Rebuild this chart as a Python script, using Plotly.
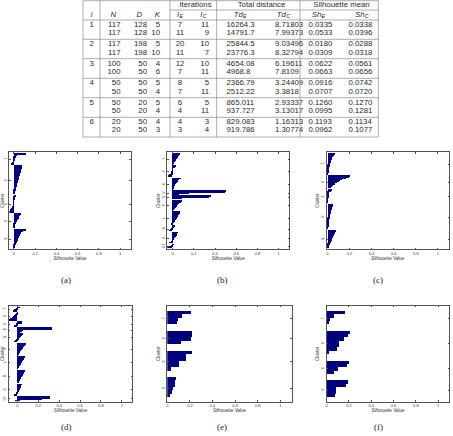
import math
import plotly.graph_objects as go

W, H = 453, 436
NAVY = "#00007f"
RULE = "#8a8a8a"

# ---------------- table ----------------
exp_id = [1, 2, 3, 4, 5, 6]
N = [117, 117, 117, 117, 100, 100, 50, 50, 50, 50, 20, 20]
D = [128, 128, 198, 198, 50, 50, 50, 50, 20, 20, 50, 50]
K = [5, 10, 5, 10, 4, 6, 5, 4, 5, 4, 4, 3]
iter_E = [7, 11, 20, 11, 12, 7, 8, 7, 6, 4, 4, 3]
iter_C = [11, 9, 10, 7, 10, 11, 5, 11, 5, 11, 3, 4]
td_E = [16264.3, 14791.7, 25844.5, 23776.3, 4654.08, 4968.8, 2366.79, 2512.22, 865.011, 937.727, 829.083, 919.786]
td_C = [8.71803, 7.99373, 9.03496, 8.32794, 6.19611, 7.8109, 3.24409, 3.3818, 2.93337, 3.13017, 1.16313, 1.30774]
sh_E = [0.0335, 0.0533, 0.0180, 0.0309, 0.0622, 0.0663, 0.0916, 0.0707, 0.1260, 0.0995, 0.1193, 0.0962]
sh_C = [0.0338, 0.0396, 0.0288, 0.0318, 0.0561, 0.0656, 0.0742, 0.0720, 0.1270, 0.1281, 0.1134, 0.1077]

# column heads: (base symbol, subscript)
col_heads = [("i", ""), ("N", ""), ("D", ""), ("K", ""), ("I", "E"), ("I", "C"),
             ("Td", "E"), ("Td", "C"), ("Sh", "E"), ("Sh", "C")]
group_heads = ["Iterations", "Total distance", "Silhouette mean"]

# ---------------- silhouette values, sorted per cluster ----------------
sil_a = [
    [0.12, 0.115, 0.03, 0.025, 0.02, 0.018, 0.015, 0.012, 0.01, 0.006, 0.003, -0.005, -0.012, -0.018, -0.022],
    [0.082, 0.08, 0.078, 0.076, 0.073, 0.071, 0.069, 0.067, 0.064, 0.062, 0.06, 0.058, 0.056, 0.054, 0.052,
     0.05, 0.048, 0.046, 0.044, 0.042, 0.04, 0.038, 0.036, 0.034, 0.032, 0.03, 0.028, 0.026, 0.024, 0.022,
     0.02, 0.018, 0.015, 0.012, 0.009, 0.006, 0.003],
    [0.022, 0.018, 0.012, 0.008, 0.006, 0.004, 0.003, 0.002, 0.001, 0.0, -0.001, -0.002, -0.004, -0.006,
     -0.009, -0.013, -0.017, -0.022, -0.027, -0.032, -0.038, -0.044],
    [0.066, 0.062, 0.058, 0.054, 0.05, 0.046, 0.042, 0.038, 0.034, 0.03, 0.027, 0.024, 0.02, 0.017, 0.014,
     0.011, 0.008, 0.005, 0.002],
    [0.12, 0.112, 0.09, 0.068, 0.065, 0.062, 0.058, 0.055, 0.052, 0.049, 0.046, 0.043, 0.04, 0.037, 0.034,
     0.031, 0.028, 0.025, 0.022, 0.019, 0.016, 0.012, 0.008, 0.004],
]
sil_b = [
    [0.076, 0.072, 0.066, 0.06, 0.055, 0.05, 0.045, 0.04, 0.036, 0.032, 0.027, 0.022, 0.017, 0.012, 0.008, 0.004],
    [0.032, 0.028, 0.01, 0.006, 0.004, 0.002, 0.001, -0.001, -0.003, -0.006, -0.01, -0.015, -0.021, -0.028, -0.036, -0.045],
    [0.078, 0.065, 0.058, 0.052, 0.047, 0.042, 0.038, 0.034, 0.03, 0.026, 0.022, 0.018, 0.014, 0.01, 0.005, 0.001],
    [0.51, 0.5, 0.17, 0.16, 0.06],
    [0.36, 0.35, 0.11, 0.09],
    [0.092, 0.088, 0.08, 0.072, 0.065, 0.058, 0.052, 0.046, 0.04, 0.034, 0.028, 0.022, 0.016, 0.01, 0.004],
    [0.072, 0.068, 0.064, 0.06, 0.056, 0.052, 0.048, 0.044, 0.04, 0.036, 0.032, 0.027, 0.022, 0.017, 0.011, 0.005, -0.003, -0.01],
    [0.03, 0.012, 0.004, -0.004, -0.012, -0.022, -0.032],
    [0.052, 0.048, 0.044, 0.04, 0.036, 0.032, 0.028, 0.024, 0.02, 0.016, 0.011, 0.006, 0.0, -0.012, -0.028],
    [0.012, 0.0, -0.015, -0.03, -0.05],
]
sil_c = [
    [0.07, 0.066, 0.058, 0.052, 0.047, 0.043, 0.04, 0.037, 0.034, 0.032, 0.03, 0.028, 0.026, 0.024, 0.022,
     0.02, 0.018, 0.017, 0.015, 0.014, 0.012, 0.011, 0.009, 0.008, 0.006, 0.004, 0.002, -0.004],
    [0.2, 0.195, 0.17, 0.15, 0.13, 0.115, 0.1, 0.09, 0.08, 0.07, 0.062, 0.055, 0.048, 0.041, 0.034, 0.027],
    [0.04, 0.036, 0.03, 0.012, 0.009, 0.008, 0.007, 0.006, 0.005, 0.005, 0.004, 0.003, 0.003, 0.002, 0.001,
     0.0, -0.003, -0.006],
    [0.048, 0.045, 0.042, 0.04, 0.038, 0.036, 0.034, 0.032, 0.03, 0.029, 0.027, 0.026, 0.024, 0.023, 0.021,
     0.02, 0.019, 0.017, 0.016, 0.015, 0.013, 0.012, 0.011, 0.01, 0.009, 0.008, 0.007, 0.006, 0.004, 0.003,
     0.001, -0.004],
    [0.076, 0.074, 0.07, 0.066, 0.062, 0.058, 0.054, 0.05, 0.047, 0.044, 0.041, 0.038, 0.035, 0.032, 0.029,
     0.026, 0.023, 0.02, 0.017, 0.014, 0.011, 0.008, 0.004],
]
sil_d = [
    [0.022, 0.005, -0.01, -0.022, -0.034, -0.045],
    [0.004, -0.004, -0.012, -0.02, -0.028, -0.036, -0.044, -0.052, -0.06, -0.07, -0.08],
    [0.045, 0.04, 0.01, -0.005, -0.012, -0.022, -0.032],
    [0.335, 0.33, 0.06, 0.055, 0.04, 0.03],
    [0.052, 0.048, 0.044, 0.038, 0.032, 0.026, 0.02, 0.012, 0.004, -0.008, -0.02, -0.032],
    [0.082, 0.078, 0.073, 0.068, 0.063, 0.058, 0.053, 0.048, 0.043, 0.038, 0.033, 0.028, 0.023, 0.018, 0.012, 0.007, 0.002],
    [0.072, 0.068, 0.064, 0.06, 0.056, 0.052, 0.048, 0.044, 0.04, 0.036, 0.032, 0.028, 0.024, 0.02, 0.015, 0.01, 0.005, 0.001],
    [0.076, 0.072, 0.068, 0.063, 0.059, 0.055, 0.051, 0.047, 0.043, 0.039, 0.035, 0.031, 0.027, 0.022, 0.017, 0.012, 0.007, 0.002],
    [0.042, 0.038, 0.035, 0.032, 0.029, 0.026, 0.023, 0.02, 0.016, 0.012, 0.008, 0.003, -0.004, -0.012, -0.022, -0.032],
    [0.315, 0.31, 0.25, 0.24, 0.03, -0.02],
]
sil_e = [
    [0.21, 0.13, 0.095, 0.09],
    [0.225, 0.22, 0.21, 0.125],
    [0.22, 0.17, 0.17, 0.105, 0.105, 0.035],
    [0.08, 0.075, 0.07, 0.055, 0.045, 0.03],
]
sil_f = [
    [0.16, 0.06, 0.03, 0.015],
    [0.21, 0.185, 0.15, 0.11, 0.105, 0.09, 0.015],
    [0.2, 0.18, 0.1, 0.06],
    [0.185, 0.17, 0.08, 0.08, 0.075],
]

x_ticks = [0, 0.2, 0.4, 0.6, 0.8, 1]
x_tick_text = ["0", "0.2", "0.4", "0.6", "0.8", "1"]


def fx(p):
    return p / W


def fy(p):
    return 1 - p / H


fig = go.Figure()

# ---- table drawn as text on a hidden pixel-scaled axis ----
cells = [
    [str(g) if j == 0 else "" for g in exp_id for j in range(2)],
    N, D, K, iter_E, iter_C,
    [f"{v:g}" for v in td_E], [f"{v:g}" for v in td_C],
    [f"{v:.4f}" for v in sh_E], [f"{v:.4f}" for v in sh_C],
]
# column anchors and alignment (table layout)
col_x = [91.7, 120.5, 147, 160, 180, 209, 226.5, 275, 308.5, 348.5]
col_pos = ["middle center", "middle left", "middle left", "middle left", "middle center",
           "middle left", "middle right", "middle right", "middle right", "middle right"]
head_x = [91.7, 113.3, 139.3, 157.3, 180, 203.3, 240, 283.3, 318.3, 361.7]
group_x = [195.5, 261.5, 341.5]
row_y = [25 + k * 8.4 + (k // 2) * 2.6 for k in range(len(N))]

FS, FS_SUB = 7.8, 5.4
tfont = dict(family="Liberation Sans, Arial, sans-serif", size=FS, color="#2b2b2b")
subfont = dict(tfont, size=FS_SUB)
tx, ty, tt, tp = [], [], [], []
for c, col in enumerate(cells):
    for r, v in enumerate(col):
        if str(v) == "":
            continue
        tx.append(col_x[c])
        ty.append(row_y[r])
        tt.append(str(v))
        tp.append(col_pos[c])
fig.add_trace(go.Scatter(x=tx, y=ty, text=tt, mode="text", textposition=tp,
                         textfont=tfont, xaxis="x7", yaxis="y7", hoverinfo="skip"))

# header symbols: base letter + separately drawn subscript, centred together
em = {"i": 0.222, "N": 0.722, "D": 0.722, "K": 0.667, "I": 0.278, "T": 0.611, "d": 0.556,
      "S": 0.667, "h": 0.556, "E": 0.667, "C": 0.722}
bx, bt, sx, st = [], [], [], []
for (base, sub), cx in zip(col_heads, head_x):
    wb = sum(em[ch] for ch in base) * FS
    ws = sum(em[ch] for ch in sub) * FS_SUB
    left = cx - (wb + ws) / 2
    bx.append(left)
    bt.append(f"<i>{base}</i>")
    if sub:
        sx.append(left + wb + 0.3)
        st.append(f"<i>{sub}</i>")
fig.add_trace(go.Scatter(x=bx, y=[15] * len(bx), text=bt, mode="text",
                         textposition="middle right", textfont=tfont,
                         xaxis="x7", yaxis="y7", hoverinfo="skip"))
fig.add_trace(go.Scatter(x=sx, y=[17] * len(sx), text=st, mode="text",
                         textposition="middle right", textfont=subfont,
                         xaxis="x7", yaxis="y7", hoverinfo="skip"))
fig.add_trace(go.Scatter(x=group_x, y=[5] * len(group_x), text=group_heads, mode="text",
                         textposition="middle center", textfont=tfont,
                         xaxis="x7", yaxis="y7", hoverinfo="skip"))

shapes = []
for yy in [0.7, 20, 39.3, 58.7, 78.3, 97.7, 117.3, 137]:
    shapes.append(dict(type="line", xref="paper", yref="paper", x0=fx(83), x1=fx(378.3),
                       y0=fy(yy), y1=fy(yy), line=dict(color=RULE, width=0.7)))
shapes.append(dict(type="line", xref="paper", yref="paper", x0=fx(170), x1=fx(378.3),
                   y0=fy(10), y1=fy(10), line=dict(color=RULE, width=0.7)))
for xx in [83, 100, 170, 216.7, 300, 378.3]:
    shapes.append(dict(type="line", xref="paper", yref="paper", x0=fx(xx), x1=fx(xx),
                       y0=fy(0.7), y1=fy(137), line=dict(color=RULE, width=0.7)))

annotations = []

# ---- silhouette panels: (values, box left, right, top, bottom in px, caption) ----
panels = [
    (sil_a, 9.3, 130.7, 152.3, 249, "(a)"),
    (sil_b, 167.3, 289.3, 152.3, 249, "(b)"),
    (sil_c, 326.7, 449, 152.3, 249, "(c)"),
    (sil_d, 9, 132.3, 305.7, 401.7, "(d)"),
    (sil_e, 167.3, 291.7, 305.7, 401.7, "(e)"),
    (sil_f, 326.7, 449.3, 305.7, 401.7, "(f)"),
]
cap_x = [66, 222, 378]
small = dict(family="Liberation Sans, Arial, sans-serif", size=4, color="#333333")
title_font = dict(family="Liberation Sans, Arial, sans-serif", size=4.6, color="#333333")

layout_axes = {
    "xaxis7": dict(domain=[0, 1], range=[0, W], visible=False, fixedrange=True),
    "yaxis7": dict(domain=[0, 1], range=[H, 0], visible=False, fixedrange=True),
}
for k, (clusters, x0, x1, y0, y1, cap) in enumerate(panels, start=1):
    n = sum(len(c) for c in clusters)
    space = max(math.floor(0.02 * n), 2)
    ys, xs, ticks = [], [], []
    pos = space
    for c in clusters:
        for v in c:
            pos += 1
            ys.append(pos)
            xs.append(v)
        pos += space
        ticks.append(pos - 0.5 * (len(c) + space))
    sfx = "" if k == 1 else str(k)
    fig.add_trace(go.Bar(x=xs, y=ys, orientation="h", width=1,
                         marker=dict(color=NAVY, line=dict(width=0)),
                         xaxis="x" + sfx, yaxis="y" + sfx, showlegend=False,
                         hoverinfo="skip"))
    common = dict(showline=True, linecolor="#555555", linewidth=0.6, mirror="ticks",
                  ticks="inside", ticklen=1.6, tickwidth=0.5, tickcolor="#555555",
                  showgrid=False, zeroline=False, tickfont=small, fixedrange=True)
    layout_axes["xaxis" + sfx] = dict(common, domain=[fx(x0), fx(x1)], anchor="y" + sfx,
                                      range=[min(0, min(xs)), 1.1],
                                      tickvals=x_ticks, ticktext=x_tick_text,
                                      title=dict(text="Silhouette Value", font=title_font,
                                                 standoff=0))
    layout_axes["yaxis" + sfx] = dict(common, domain=[fy(y1), fy(y0)], anchor="x" + sfx,
                                      range=[pos, 1], tickvals=ticks,
                                      ticktext=[str(i + 1) for i in range(len(clusters))],
                                      tickangle=90,
                                      title=dict(text="Cluster", font=title_font, standoff=0))
    row = 0 if k <= 3 else 1
    annotations.append(dict(text=cap, x=fx(cap_x[(k - 1) % 3]), y=fy([280, 427][row]),
                            xref="paper", yref="paper", showarrow=False,
                            font=dict(family="Liberation Serif, Times New Roman, serif",
                                      size=9, color="#222222"),
                            xanchor="center", yanchor="middle"))

fig.update_layout(
    width=W, height=H,
    margin=dict(l=0, r=0, t=0, b=0),
    paper_bgcolor="white", plot_bgcolor="rgba(0,0,0,0)",
    showlegend=False, bargap=0,
    shapes=shapes, annotations=annotations,
    **layout_axes,
)

fig.write_html("out.html", include_plotlyjs=True, config={"displayModeBar": False},
               post_script="document.body.style.margin='0';document.body.style.overflow='hidden';")
